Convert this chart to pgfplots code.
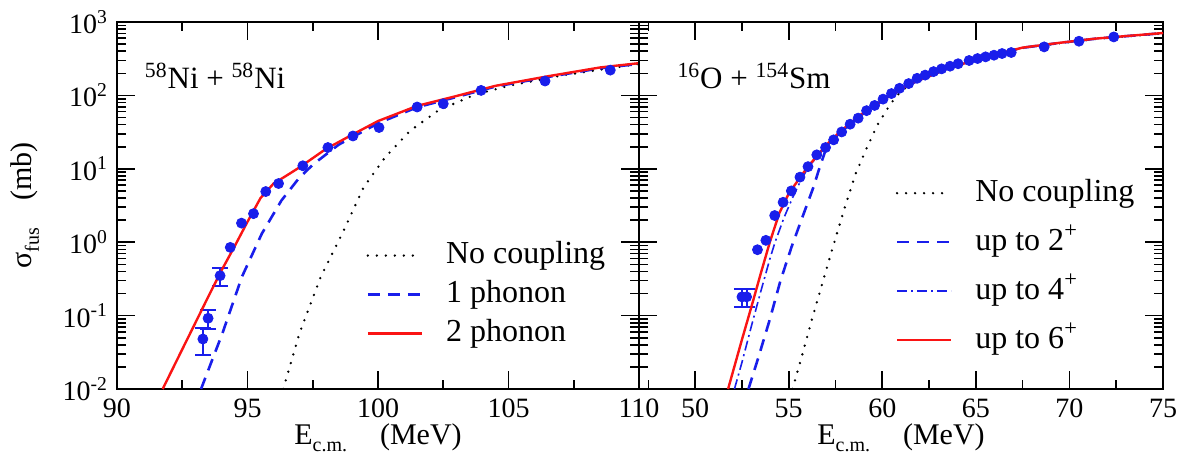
\documentclass[border=0pt]{standalone}
\usepackage{fontspec}
\setmainfont{Liberation Serif}
\usepackage{pgfplots}
\pgfplotsset{compat=1.18}
\definecolor{myblue}{RGB}{25,30,235}
\definecolor{myred}{RGB}{250,20,20}
\tikzset{
  nocoup/.style={black, line width=1.3pt, line cap=round, dash pattern=on 0pt off 4.5pt},
  dsh/.style={myblue, line width=1.3pt, dash pattern=on 6pt off 4pt},
  dshdot/.style={myblue, line width=0.8pt, dash pattern=on 5pt off 2pt on 1pt off 2pt},
  rd/.style={myred, line width=1.2pt},
}
\pgfplotsset{
  every axis/.append style={
    scale only axis, height=183.5pt, ymin=1e-2, ymax=1e3,
    ytick={1e-2,1e-1,1,10,100,1000},
    minor ytick={0.02,0.03,0.04,0.05,0.06,0.07,0.08,0.09,0.2,0.3,0.4,0.5,0.6,0.7,0.8,0.9,2,3,4,5,6,7,8,9,20,30,40,50,60,70,80,90,200,300,400,500,600,700,800,900},
    axis line style={line width=1pt},
    major tick length=9pt, minor tick length=4.5pt,
    tick align=inside, xtick pos=both, ytick pos=both,
    tick style={black, line width=0.8pt},
    ticklabel style={font=\rmfamily\fontsize{14}{16}\selectfont},
    xticklabel style={yshift=-1.5pt},
    label style={font=\rmfamily\fontsize{15}{17}\selectfont},
    legend cell align=left,
    legend style={draw=none, fill=none, font=\rmfamily\fontsize{16}{18}\selectfont, anchor=north west,
      inner sep=0pt, outer sep=0pt,
      nodes={inner sep=1.5pt, text height=11pt, text depth=3pt},
      /tikz/every odd column/.append style={column sep=10pt}},
    xlabel style={at={(axis description cs:0.5,0)}, anchor=base, yshift=-27.5pt},
  },
}
\begin{document}
\begin{tikzpicture}
\useasboundingbox (-58.5pt,-41.5pt) rectangle (537.5pt,194.5pt);
\begin{semilogyaxis}[name=L, width=261pt,
  xmin=90, xmax=110, xtick={90,95,100,105,110}, xticklabels={90,95,100,105,110},
  minor xtick={92.5,97.5,102.5,107.5},
  yticklabels={10\textsuperscript{-2},10\textsuperscript{-1},10\textsuperscript{0},10\textsuperscript{1},10\textsuperscript{2},10\textsuperscript{3}},
  yticklabel style={xshift=-1pt},
  xlabel={E\raisebox{-0.55ex}{\fontsize{10}{10}\selectfont c.m.}\hspace{1.1em}(MeV)},
  ylabel={σ\raisebox{-0.5ex}{\fontsize{10}{10}\selectfont fus}\hspace{0.9em}(mb)},
  ylabel style={at={(axis description cs:-0.176,0.5)}, anchor=center},
  legend style={at={(0.478,0.41)}, row sep=2.5pt},
  legend image code/.code={\draw[#1] (0pt,0pt) -- (27pt,0pt);},
]
\addplot[only marks, mark=*, mark size=2.5pt, color=myblue, forget plot,
  error bars/.cd, y dir=both, y explicit,
  error bar style={line width=1.1pt, myblue},
  error mark options={rotate=90, mark size=4pt, line width=1.1pt, myblue}]
  coordinates {(93.29,0.048) +- (0,0.019) (93.49,0.092) +- (0,0.026) (93.95,0.35) +- (0,0.095)};
\addplot[only marks, mark=*, mark size=2.5pt, color=myblue, forget plot] coordinates {(94.34,0.85) (94.77,1.82) (95.23,2.45) (95.70,4.9) (96.19,6.3) (97.12,11) (98.08,19.5) (99.04,28) (100.04,36.5) (101.5,69.5) (102.5,77) (103.95,117) (106.4,157) (108.9,221)};
\addplot[nocoup] coordinates {(96.37,0.01) (96.99,0.0575) (97.81,0.34) (98.63,1.31) (99.45,5.6) (100.27,14.3) (101.23,33) (102.3,62) (103.7,102) (105,135) (107,186) (110,269)};
\addlegendentry{No coupling}
\addplot[dsh] coordinates {(93.22,0.01) (94.04,0.0575) (94.79,0.34) (95.55,1.31) (96.30,3.7) (96.99,7.6) (97.53,11.6) (98.5,21.4) (100,41.7) (101.5,69) (103,95) (104.5,132) (106.5,178) (108.5,234) (110,269)};
\addlegendentry{1 phonon}
\addplot[rd] coordinates {(91.75,0.01) (92.5,0.0347) (93.0,0.0794) (93.5,0.182) (94.0,0.41) (94.5,0.87) (95.0,1.9) (95.5,4.0) (96.0,6.3) (96.5,8.1) (97.0,10.5) (98.0,18.6) (99.0,29) (100,44.7) (101.5,72) (103,98) (104.5,135) (106.5,182) (108.5,240) (110,275)};
\addlegendentry{2 phonon}
\node[anchor=base west, font=\rmfamily\fontsize{15.5}{17}\selectfont] at (rel axis cs:0.04,0.82) {\textsuperscript{58}Ni + \textsuperscript{58}Ni};
\end{semilogyaxis}
\begin{semilogyaxis}[at={(L.south east)}, anchor=south west, width=262pt,
  xmin=47, xmax=75, xtick={50,55,60,65,70,75}, xticklabels={50,55,60,65,70,75},
  minor xtick={47.5,52.5,57.5,62.5,67.5,72.5},
  yticklabels={},
  xlabel={E\raisebox{-0.55ex}{\fontsize{10}{10}\selectfont c.m.}\hspace{1.1em}(MeV)},
  legend style={at={(0.49,0.58)}, row sep=7.5pt},
  legend image code/.code={\draw[#1] (0pt,0pt) -- (27pt,0pt);},
]
\addplot[only marks, mark=*, mark size=2.5pt, color=myblue, forget plot,
  error bars/.cd, y dir=both, y explicit,
  error bar style={line width=1.1pt, myblue},
  error mark options={rotate=90, mark size=4pt, line width=1.1pt, myblue}]
  coordinates {(52.5,0.18) +- (0,0.05) (52.75,0.18) +- (0,0.05)};
\addplot[only marks, mark=*, mark size=2.5pt, color=myblue, forget plot] coordinates {(53.33,0.79) (53.78,1.06) (54.25,2.31) (54.70,3.5) (55.14,5.0) (55.6,7.7) (56.03,10.7) (56.5,15.5) (56.97,19.5) (57.4,24.8) (57.83,31.8) (58.28,40.5) (58.71,49) (59.16,62) (59.59,73) (60.04,89) (60.49,106) (60.92,125) (61.41,145) (61.86,171) (62.29,189) (62.74,211) (63.17,230) (63.62,250) (64.05,270) (64.64,299) (65.09,318) (65.52,335) (65.97,353) (66.4,372) (66.89,384) (68.65,458) (70.51,547) (72.37,626)};
\addplot[nocoup] coordinates {(55.2,0.01) (55.65,0.025) (56.24,0.089) (56.83,0.295) (57.4,0.93) (58.0,3.0) (58.57,8.5) (59.16,19) (59.75,40) (60.43,76) (61.0,115) (61.6,145) (63.56,234) (65.52,327) (67.48,442) (69.43,513) (71.39,589) (75,700)};
\addlegendentry{No coupling}
\addplot[dsh] coordinates {(52.85,0.01) (53.39,0.0275) (53.98,0.087) (54.56,0.30) (55.15,0.86) (55.73,2.19) (56.32,5.6) (56.6,9.5) (57.0,19) (57.69,30.5) (58.87,54) (60.04,85.5) (61.6,146) (63.56,236) (65.52,329) (67.48,445) (69.43,517) (71.39,592) (75,706)};
\addlegendentry{up to 2\textsuperscript{+}}
\addplot[dshdot] coordinates {(52.1,0.01) (52.5,0.023) (53.0,0.071) (53.5,0.21) (54.0,0.6) (54.27,1.0) (54.76,2.2) (55.2,4.0) (55.6,6.6) (56.0,10) (56.52,14.8) (57.69,31) (58.87,54.5) (60.04,86) (61.6,147) (63.56,237) (65.52,330) (67.48,446) (69.43,518) (71.39,593) (75,707)};
\addlegendentry{up to 4\textsuperscript{+}}
\addplot[rd] coordinates {(51.76,0.01) (52.5,0.047) (53.0,0.13) (53.5,0.37) (54.0,1.02) (54.5,2.5) (55.0,4.6) (55.54,7.2) (56.0,10.5) (56.52,15.1) (57.0,21) (57.69,31.3) (58.87,55) (60.04,87) (61.6,148) (63.56,238) (65.52,331) (67.48,447) (69.43,519) (71.39,594) (75,708)};
\addlegendentry{up to 6\textsuperscript{+}}
\node[anchor=base west, font=\rmfamily\fontsize{15.5}{17}\selectfont] at (rel axis cs:0.06,0.82) {\textsuperscript{16}O + \textsuperscript{154}Sm};
\end{semilogyaxis}
\end{tikzpicture}
\end{document}
